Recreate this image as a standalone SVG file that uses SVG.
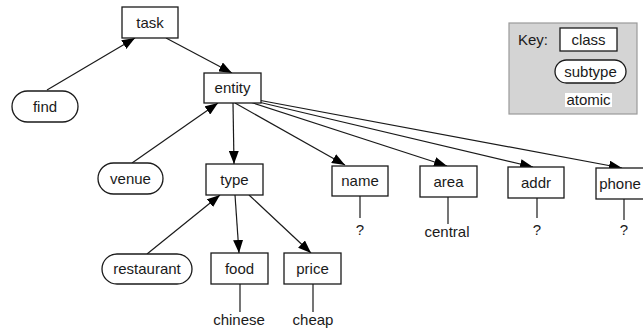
<svg xmlns="http://www.w3.org/2000/svg" width="643" height="329" viewBox="0 0 643 329">
<style>
text{font-family:"Liberation Sans",Arial,sans-serif;font-size:15px;fill:#1a1a1a;text-anchor:middle}
.box{fill:#fff;stroke:#1a1a1a;stroke-width:1.3}
.edge{stroke:#1a1a1a;stroke-width:1.2;fill:none}
.arr{marker-end:url(#ah)}
</style>
<defs>
<marker id="ah" viewBox="0 0 13 10" refX="13" refY="5" markerWidth="13" markerHeight="10" markerUnits="userSpaceOnUse" orient="auto">
<path d="M0,0 L13,5 L0,10 Z" fill="#000"/>
</marker>
</defs>
<rect width="643" height="329" fill="#fff"/>
<g id="connectors">
<line class="edge arr" x1="47" y1="90" x2="135" y2="38"/>
<line class="edge arr" x1="166" y1="38" x2="232" y2="73"/>
<line class="edge arr" x1="132" y1="163" x2="218" y2="103"/>
<line class="edge arr" x1="233" y1="103" x2="234" y2="164"/>
<line class="edge arr" x1="235" y1="103" x2="345" y2="165"/>
<line class="edge arr" x1="250" y1="102" x2="447" y2="166"/>
<line class="edge arr" x1="254" y1="101" x2="533" y2="167"/>
<line class="edge arr" x1="258" y1="100" x2="622" y2="168"/>
<line class="edge arr" x1="147" y1="254" x2="220" y2="195"/>
<line class="edge arr" x1="235" y1="195" x2="239" y2="253"/>
<line class="edge arr" x1="249" y1="195" x2="311" y2="253"/>
<line class="edge" x1="240" y1="284" x2="240" y2="312"/>
<line class="edge" x1="313" y1="284" x2="313" y2="312"/>
<line class="edge" x1="360" y1="196" x2="360" y2="218"/>
<line class="edge" x1="448" y1="197" x2="448" y2="224"/>
<line class="edge" x1="537" y1="198" x2="537" y2="218"/>
<line class="edge" x1="624" y1="199" x2="624" y2="220"/>
</g>
<g id="task"><rect class="box" x="122" y="7" width="56" height="31"/><text x="150" y="28">task</text></g>
<g id="find"><rect class="box" x="12" y="91" width="66" height="31" rx="15.5"/><text x="45" y="112">find</text></g>
<g id="entity"><rect class="box" x="204" y="73" width="57" height="30"/><text x="232.5" y="93">entity</text></g>
<g id="venue"><rect class="box" x="98" y="163" width="65" height="31" rx="15.5"/><text x="130.5" y="184">venue</text></g>
<g id="type"><rect class="box" x="206" y="164" width="57" height="31"/><text x="234.5" y="185">type</text></g>
<g id="restaurant"><rect class="box" x="102" y="254" width="90" height="30" rx="15"/><text x="147" y="274">restaurant</text></g>
<g id="food"><rect class="box" x="211" y="253" width="57" height="31"/><text x="239.5" y="274">food</text></g>
<g id="price"><rect class="box" x="284" y="253" width="57" height="31"/><text x="312.5" y="274">price</text></g>
<g id="chinese"><text x="239" y="325">chinese</text></g>
<g id="cheap"><text x="313" y="325">cheap</text></g>
<g id="name"><rect class="box" x="332" y="166" width="56" height="30"/><text x="360" y="186">name</text></g>
<g id="name-val"><text x="360" y="235">?</text></g>
<g id="area"><rect class="box" x="420" y="166" width="57" height="31"/><text x="448.5" y="187">area</text></g>
<g id="area-val"><text x="447" y="237">central</text></g>
<g id="addr"><rect class="box" x="508" y="167" width="56" height="31"/><text x="536" y="188">addr</text></g>
<g id="addr-val"><text x="537" y="235">?</text></g>
<g id="phone"><rect class="box" x="596" y="168" width="57" height="31"/><text x="620" y="189">phone</text></g>
<g id="phone-val"><text x="624" y="235">?</text></g>
<g id="key">
<rect x="509" y="23" width="128" height="91" fill="#d4d4d4" stroke="#9a9a9a" stroke-width="1.2"/>
<text x="533" y="45">Key:</text>
<rect class="box" x="560" y="28" width="57" height="23"/><text x="588.5" y="45">class</text>
<rect class="box" x="555" y="60" width="71" height="23" rx="11.5"/><text x="590.5" y="77">subtype</text>
<rect x="565" y="93" width="47" height="14" fill="#fff"/><text x="588.5" y="105">atomic</text>
</g>
</svg>
